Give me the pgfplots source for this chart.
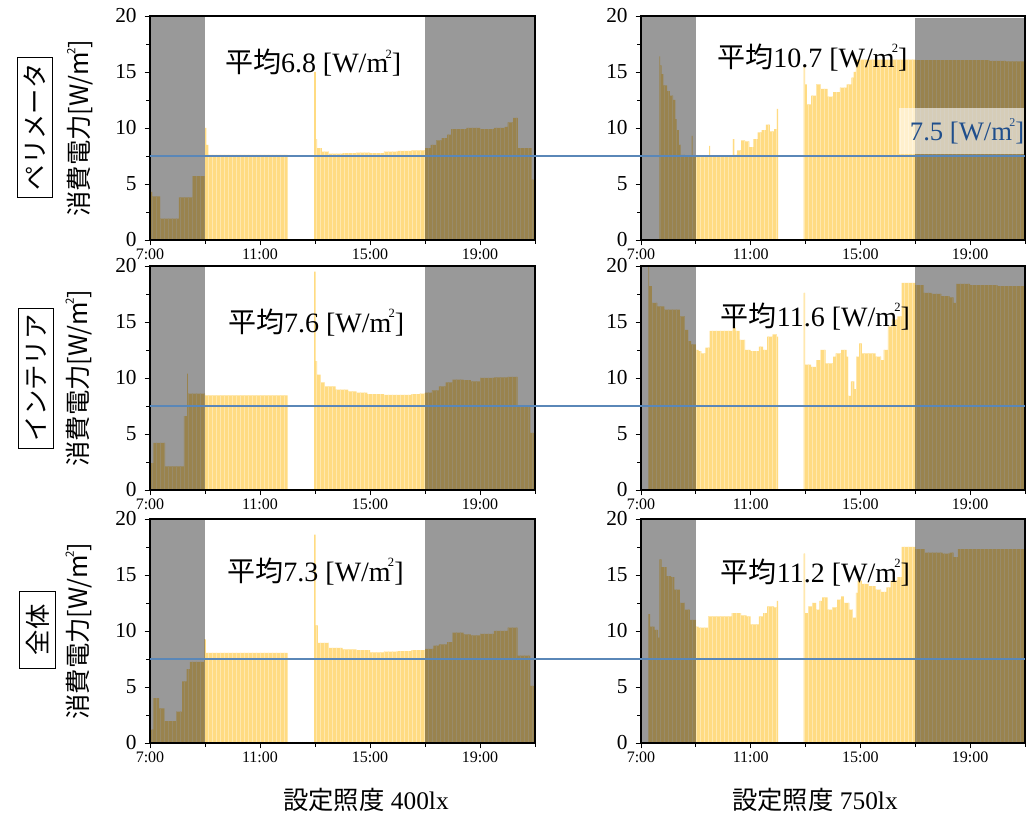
\documentclass[border=0pt]{standalone}
\usepackage{fontspec}
\setmainfont{Liberation Serif}
\newfontfamily\cjk{Noto Sans CJK JP}
\usepackage{graphicx}
\usepackage{pgfplots}
\pgfplotsset{compat=1.18}
\usetikzlibrary{patterns}
\definecolor{barY}{HTML}{FFDB82}
\definecolor{barL}{HTML}{FFE8AE}
\definecolor{refblue}{HTML}{5A87B8}
\definecolor{txtblue}{HTML}{1F4E8C}
\newcommand{\msq}{m\kern-0.1em\raisebox{0.52em}{\scalebox{0.45}{2}}}
\newcommand{\ptext}[1]{{\cjk 平均}#1 [W/\msq]}
\tikzset{ptxt/.style={font=\fontsize{21}{21}\selectfont}}
\pgfplotsset{
  panel/.style={scale only axis, width=288.75pt, height=168pt, anchor=south west,
    xmin=7, xmax=21, ymin=0, ymax=20,
    xtick={7,11,15,19}, xticklabels={7:00,11:00,15:00,19:00}, minor xtick={9,13,17,21},
    ytick={0,5,10,15,20}, minor ytick={2.5,7.5,12.5,17.5},
    tick align=outside, xtick pos=left, ytick pos=left,
    major tick length=4pt, minor tick length=3pt,
    axis line style={line width=0.8pt}, tick style={black, line width=0.6pt},
    clip=false, axis on top,
    /pgf/number format/assume math mode=true,
    yticklabel style={font=\fontsize{16}{16}\selectfont, xshift=-2.5pt},
    xticklabel style={font=\fontsize{12}{12}\selectfont, yshift=1pt},
  },
  bars/.style={const plot, draw=none, fill=barY, postaction={pattern=vertical lines, pattern color=barL}},
  graybox/.style={draw=none, fill=black, fill opacity=0.4},
}
\begin{document}
\begin{tikzpicture}
\useasboundingbox (0,0) rectangle (777pt,612pt);
% ---------------- Row 1 left
\begin{axis}[panel, name=L1, at={(112.5pt,432pt)}]
\addplot[bars] table[row sep=\\]{x y\\ 7 7.0\\ 7.03 4.3\\ 7.08 3.9\\ 7.37 1.9\\ 8.05 3.8\\ 8.55 5.7\\ 9.0 10.0\\ 9.05 8.5\\ 9.12 7.6\\ 12.0 7.6\\} \closedcycle;
\addplot[bars] table[row sep=\\]{x y\\ 12.97 15.0\\ 13.03 9.0\\ 13.08 8.2\\ 13.25 7.9\\ 13.5 7.7\\ 14.0 7.75\\ 14.5 7.8\\ 15.0 7.75\\ 15.5 7.9\\ 16.0 7.95\\ 16.5 8.0\\ 17.0 8.2\\ 17.2 8.5\\ 17.4 8.9\\ 17.6 9.1\\ 17.8 9.4\\ 17.95 9.9\\ 18.5 10.0\\ 19.0 9.9\\ 19.5 10.0\\ 19.9 10.1\\ 20.0 10.5\\ 20.2 10.9\\ 20.38 8.2\\ 20.88 5.4\\ 21.0 5.4\\} \closedcycle;
\addplot[graybox] coordinates {(7,20) (9,20)} \closedcycle;
\addplot[graybox] coordinates {(17,20) (21,20)} \closedcycle;
\node[ptxt] at (axis cs:12.93,15.8) {\ptext{6.8}};
\coordinate (l1) at (axis cs:7,7.5);
\end{axis}
% ---------------- Row 1 right
\begin{axis}[panel, name=R1, at={(480.75pt,432pt)}, width=288pt]
\addplot[bars] table[row sep=\\]{x y\\ 7.67 16.4\\ 7.70 15.6\\ 7.75 14.8\\ 7.82 13.8\\ 7.95 13.3\\ 8.05 12.9\\ 8.17 12.5\\ 8.25 10.8\\ 8.3 9.8\\ 8.38 8.5\\ 8.45 7.6\\ 8.6 7.5\\ 8.85 9.3\\ 8.88 7.5\\ 9.48 8.4\\ 9.52 7.5\\ 10.35 9.0\\ 10.4 7.6\\ 10.5 8.0\\ 10.65 8.9\\ 10.8 8.8\\ 10.95 8.3\\ 11.1 9.0\\ 11.25 9.6\\ 11.4 9.8\\ 11.55 10.3\\ 11.7 9.7\\ 11.85 9.9\\ 11.95 11.7\\ 12.0 11.7\\} \closedcycle;
\addplot[bars] table[row sep=\\]{x y\\ 12.93 15.5\\ 12.98 13.9\\ 13.05 12.1\\ 13.2 12.9\\ 13.38 13.9\\ 13.55 13.5\\ 13.8 12.8\\ 14.0 13.2\\ 14.25 13.6\\ 14.5 13.9\\ 14.67 14.5\\ 14.75 15.0\\ 14.83 16.1\\ 17.0 16.05\\ 19.7 16.0\\ 20.3 15.95\\ 21.0 15.95\\} \closedcycle;
\addplot[graybox] coordinates {(7,20) (9,20)} \closedcycle;
\addplot[graybox] coordinates {(17,19.8) (21,19.8)} \closedcycle;
\node[ptxt] at (axis cs:13.25,16.3) {\ptext{10.7}};
\node[fill=white, fill opacity=0.6, text opacity=1, text=txtblue, inner xsep=8pt, minimum height=34pt, font=\fontsize{20}{20}\selectfont] at (axis cs:18.89,9.73) {7.5 [W/\msq]};
\coordinate (r1) at (axis cs:21,7.5);
\end{axis}
% ---------------- Row 2 left
\begin{axis}[panel, name=L2, at={(112.5pt,244.5pt)}]
\addplot[bars] table[row sep=\\]{x y\\ 7.0 2.4\\ 7.12 4.2\\ 7.55 2.1\\ 8.23 6.6\\ 8.35 10.4\\ 8.38 8.6\\ 9.0 8.45\\ 12.0 8.45\\} \closedcycle;
\addplot[bars] table[row sep=\\]{x y\\ 12.97 19.5\\ 13.02 11.5\\ 13.08 10.3\\ 13.2 9.6\\ 13.35 9.25\\ 13.75 8.95\\ 14.2 8.8\\ 14.5 8.7\\ 14.9 8.55\\ 15.5 8.5\\ 16.0 8.5\\ 16.5 8.55\\ 16.8 8.6\\ 17.0 8.7\\ 17.25 8.9\\ 17.5 9.25\\ 17.75 9.6\\ 18.0 9.85\\ 18.4 9.8\\ 18.67 9.7\\ 19.0 10.0\\ 19.5 10.05\\ 20.0 10.1\\ 20.37 7.5\\ 20.83 5.1\\ 21.0 5.1\\} \closedcycle;
\addplot[graybox] coordinates {(7,20) (9,20)} \closedcycle;
\addplot[graybox] coordinates {(17,20) (21,20)} \closedcycle;
\node[ptxt] at (axis cs:13.04,14.95) {\ptext{7.6}};
\coordinate (l2) at (axis cs:7,7.5);
\end{axis}
% ---------------- Row 2 right
\begin{axis}[panel, name=R2, at={(480.75pt,244.5pt)}, width=288pt]
\addplot[bars] table[row sep=\\]{x y\\ 7.27 20.0\\ 7.3 18.2\\ 7.4 16.7\\ 7.6 16.4\\ 7.85 16.1\\ 8.3 16.1\\ 8.42 15.5\\ 8.6 14.3\\ 8.72 13.3\\ 8.83 13.0\\ 9.0 12.5\\ 9.1 12.4\\ 9.2 12.2\\ 9.35 12.7\\ 9.5 14.2\\ 10.35 14.5\\ 10.45 14.2\\ 10.6 13.4\\ 10.8 12.5\\ 11.0 12.4\\ 11.3 12.8\\ 11.45 12.5\\ 11.6 13.7\\ 11.8 13.9\\ 11.95 13.7\\ 12.0 13.7\\} \closedcycle;
\addplot[bars] table[row sep=\\]{x y\\ 12.93 17.6\\ 12.98 11.2\\ 13.2 11.0\\ 13.38 11.6\\ 13.55 12.5\\ 13.73 11.3\\ 14.0 11.9\\ 14.1 12.2\\ 14.3 12.5\\ 14.5 11.9\\ 14.55 8.4\\ 14.65 9.7\\ 14.78 9.0\\ 14.85 11.9\\ 14.95 13.1\\ 15.05 12.2\\ 15.3 12.2\\ 15.55 11.9\\ 15.75 11.6\\ 15.85 12.5\\ 16.0 14.6\\ 16.15 15.2\\ 16.35 15.5\\ 16.5 18.5\\ 17.0 18.3\\ 17.3 17.6\\ 17.6 17.5\\ 17.95 17.3\\ 18.25 17.2\\ 18.4 16.7\\ 18.5 18.4\\ 19.0 18.3\\ 20.0 18.2\\ 21.0 18.1\\} \closedcycle;
\addplot[graybox] coordinates {(7,20) (9,20)} \closedcycle;
\addplot[graybox] coordinates {(17,20) (21,20)} \closedcycle;
\node[ptxt] at (axis cs:13.36,15.5) {\ptext{11.6}};
\coordinate (r2) at (axis cs:21,7.5);
\end{axis}
% ---------------- Row 3 left
\begin{axis}[panel, name=L3, at={(112.5pt,54.75pt)}]
\addplot[bars] table[row sep=\\]{x y\\ 7.0 1.2\\ 7.12 4.0\\ 7.33 3.1\\ 7.52 1.95\\ 7.95 2.8\\ 8.17 5.5\\ 8.33 6.6\\ 8.45 7.25\\ 8.97 9.25\\ 9.03 8.05\\ 12.0 8.05\\} \closedcycle;
\addplot[bars] table[row sep=\\]{x y\\ 12.97 18.6\\ 13.02 10.5\\ 13.1 8.95\\ 13.5 8.5\\ 14.0 8.35\\ 14.5 8.3\\ 15.0 8.1\\ 15.5 8.15\\ 16.0 8.2\\ 16.5 8.3\\ 17.0 8.4\\ 17.3 8.7\\ 17.5 8.8\\ 17.8 9.0\\ 18.0 9.85\\ 18.4 9.7\\ 18.67 9.6\\ 19.0 9.75\\ 19.5 10.0\\ 20.0 10.3\\ 20.37 7.8\\ 20.83 5.1\\ 21.0 5.1\\} \closedcycle;
\addplot[graybox] coordinates {(7,20) (9,20)} \closedcycle;
\addplot[graybox] coordinates {(17,20) (21,20)} \closedcycle;
\node[ptxt] at (axis cs:13.02,15.3) {\ptext{7.3}};
\coordinate (l3) at (axis cs:7,7.5);
\end{axis}
% ---------------- Row 3 right
\begin{axis}[panel, name=R3, at={(480.75pt,54.75pt)}, width=288pt]
\addplot[bars] table[row sep=\\]{x y\\ 7.27 11.5\\ 7.33 10.4\\ 7.5 10.1\\ 7.62 9.4\\ 7.67 16.4\\ 7.75 15.7\\ 7.93 14.9\\ 8.1 14.8\\ 8.22 13.7\\ 8.42 12.5\\ 8.6 11.9\\ 8.78 11.0\\ 9.0 10.4\\ 9.1 10.3\\ 9.45 11.3\\ 10.3 11.6\\ 10.65 11.4\\ 10.85 11.3\\ 11.0 10.6\\ 11.3 11.3\\ 11.45 11.6\\ 11.6 12.2\\ 11.85 12.1\\ 11.95 12.7\\ 12.0 12.7\\} \closedcycle;
\addplot[bars] table[row sep=\\]{x y\\ 12.93 16.9\\ 12.98 11.6\\ 13.1 12.2\\ 13.25 12.5\\ 13.38 11.9\\ 13.5 12.7\\ 13.6 13.0\\ 13.8 11.9\\ 13.98 12.1\\ 14.15 12.8\\ 14.3 13.1\\ 14.4 12.5\\ 14.6 11.9\\ 14.72 11.2\\ 14.83 13.4\\ 14.9 14.5\\ 15.05 14.2\\ 15.3 14.0\\ 15.55 13.7\\ 15.75 13.5\\ 15.95 13.9\\ 16.1 14.5\\ 16.35 14.8\\ 16.5 17.5\\ 17.0 17.3\\ 17.35 17.0\\ 18.0 16.9\\ 18.25 17.0\\ 18.4 16.6\\ 18.55 17.3\\ 20.0 17.3\\ 21.0 17.2\\} \closedcycle;
\addplot[graybox] coordinates {(7,20) (9,20)} \closedcycle;
\addplot[graybox] coordinates {(17,20) (21,20)} \closedcycle;
\node[ptxt] at (axis cs:13.36,15.25) {\ptext{11.2}};
\coordinate (r3) at (axis cs:21,7.5);
\end{axis}
% ---------------- reference lines
\draw[refblue, line width=1.2pt] (l1) -- (r1);
\draw[refblue, line width=1.2pt] (l2) -- (r2);
\draw[refblue, line width=1.2pt] (l3) -- (r3);
% ---------------- row labels
\node[draw, line width=0.6pt, rotate=90, inner xsep=5pt, inner ysep=5pt, font=\cjk\fontsize{19}{19}\selectfont] at (26pt,516.75pt) {ペリメータ};
\node[draw, line width=0.6pt, rotate=90, inner xsep=5pt, inner ysep=5pt, font=\cjk\fontsize{19}{19}\selectfont] at (27pt,328.5pt) {インテリア};
\node[draw, line width=0.6pt, rotate=90, inner xsep=10pt, inner ysep=5pt, font=\cjk\fontsize{19}{19}\selectfont] at (28pt,139.5pt) {全体};
\node[rotate=90, font=\cjk\fontsize{19}{19}\selectfont] at (60pt,516pt) {消費電力[W/\msq]};
\node[rotate=90, font=\cjk\fontsize{19}{19}\selectfont] at (59pt,328.5pt) {消費電力[W/\msq]};
\node[rotate=90, font=\cjk\fontsize{19}{19}\selectfont] at (59pt,138.75pt) {消費電力[W/\msq]};
% ---------------- bottom labels
\node[font=\fontsize{19}{19}\selectfont] at (274.5pt,12pt) {{\cjk 設定照度} 400lx};
\node[font=\fontsize{19}{19}\selectfont] at (611.25pt,12pt) {{\cjk 設定照度} 750lx};
\end{tikzpicture}
\end{document}
